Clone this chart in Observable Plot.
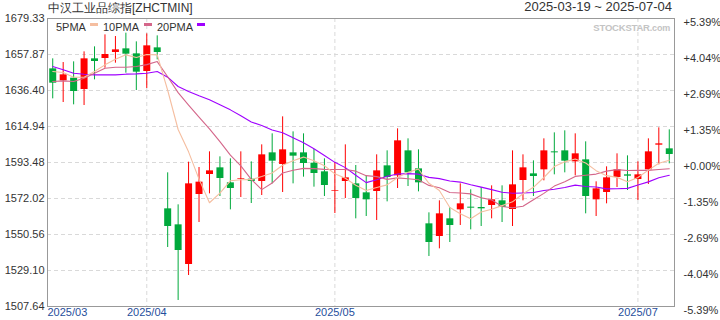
<!DOCTYPE html>
<html><head><meta charset="utf-8">
<script src="https://cdn.jsdelivr.net/npm/d3@7"></script>
<script src="https://cdn.jsdelivr.net/npm/@observablehq/plot@0.6"></script>
<style>
body{margin:0;background:#fff;font-family:"Liberation Sans",Arial,sans-serif;}
#wrap{position:relative;width:720px;height:320px;overflow:hidden;}
.t{position:absolute;white-space:nowrap;color:#333;line-height:14px;}
.sw{position:absolute;width:8px;height:3px;}
</style></head><body>
<div id="wrap"></div>
<script>
const titleText = "中汉工业品综指[ZHCTMIN]";
const rangeText = "2025-03-19 ~ 2025-07-04";
const legendNames = ["5PMA", "10PMA", "20PMA"];
const maColors = ["#f5bea0", "#d4668a", "#9f00ff"];

const yTicks = [1507.64, 1529.10, 1550.56, 1572.02, 1593.48, 1614.94, 1636.40, 1657.87, 1679.33];
const pctLabels = ["-5.39%", "-4.04%", "-2.69%", "-1.35%", "+0.00%", "+1.35%", "+2.69%", "+4.04%", "+5.39%"];
const monthIdx = [0, 9, 27, 56];
const monthLabels = ["2025/03", "2025/04", "2025/05", "2025/07"];

const opens = [1649.31,1642.16,1643.75,1637.00,1655.28,1655.48,1659.05,1661.24,1658.26,1647.73,
1661.83,1565.86,1556.32,1532.68,1574.40,1586.33,1590.30,1581.36,1583.35,1583.54,
1582.15,1599.24,1592.29,1599.24,1599.24,1593.08,1587.92,1576.39,1582.15,1580.76,
1575.40,1576.19,1591.49,1585.53,1600.43,1589.70,1556.92,1549.37,1559.90,1565.26,
1566.85,1566.66,1567.85,1570.63,1565.46,1582.75,1586.72,1589.11,1599.84,1600.43,
1593.88,1595.07,1571.23,1575.60,1584.54,1586.13,1583.35,1589.11,1603.81,1601.63];
const highs = [1655.28,1653.09,1653.49,1659.45,1662.43,1669.58,1668.59,1670.58,1665.41,1670.18,
1668.99,1587.32,1568.25,1593.68,1590.50,1599.84,1596.86,1595.67,1599.84,1593.88,
1604.01,1610.57,1620.70,1611.76,1610.57,1601.23,1595.67,1593.48,1604.01,1591.69,
1585.73,1598.05,1600.43,1613.55,1607.59,1601.03,1563.48,1570.63,1566.66,1580.76,
1577.19,1578.58,1579.57,1579.57,1600.43,1598.05,1594.47,1607.59,1611.16,1612.36,
1610.57,1605.80,1581.96,1590.90,1598.65,1597.45,1593.88,1607.59,1614.14,1612.95];
const lows = [1631.43,1629.25,1627.86,1627.46,1642.76,1649.71,1652.69,1646.73,1636.40,1637.59,
1654.68,1542.81,1511.22,1526.12,1557.71,1574.80,1573.21,1565.26,1572.62,1569.04,
1573.81,1580.76,1575.60,1580.76,1584.74,1578.78,1573.21,1563.08,1572.02,1559.90,
1561.29,1558.91,1570.03,1577.98,1579.17,1575.99,1537.45,1542.02,1545.79,1555.93,
1553.34,1555.33,1559.90,1557.71,1555.33,1570.63,1573.21,1582.55,1586.13,1587.32,
1585.53,1562.88,1561.29,1568.84,1578.58,1576.79,1570.83,1580.37,1592.09,1592.69];
const closes = [1640.77,1645.74,1635.80,1655.28,1653.69,1657.86,1660.64,1658.06,1647.33,1663.03,
1659.05,1555.33,1541.02,1580.76,1581.76,1588.51,1583.94,1577.98,1583.74,1582.15,
1598.05,1594.27,1601.03,1597.26,1592.88,1586.92,1579.77,1576.79,1584.34,1572.02,
1571.23,1588.51,1584.54,1606.40,1587.32,1581.36,1545.79,1562.88,1555.93,1568.84,
1566.26,1565.86,1571.23,1566.66,1580.17,1590.30,1585.13,1600.43,1599.24,1594.27,
1598.65,1573.21,1577.78,1584.34,1589.11,1585.33,1586.13,1599.84,1604.61,1598.25];
const ma5 = [1647.73,1647.13,1644.35,1644.35,1647.73,1651.70,1655.08,1657.66,1656.07,1657.86,
1657.66,1636.56,1613.15,1599.84,1583.58,1569.48,1575.20,1582.59,1583.19,1583.26,
1585.17,1587.24,1591.85,1594.55,1596.70,1594.47,1591.57,1586.72,1584.14,1579.97,
1576.83,1578.58,1580.13,1584.54,1587.60,1589.63,1581.08,1576.75,1566.66,1562.96,
1559.94,1563.95,1565.62,1567.77,1570.04,1574.84,1578.70,1584.54,1591.05,1593.87,
1595.54,1593.16,1588.63,1585.65,1584.62,1581.95,1584.54,1588.95,1593.00,1594.83];
const ma10 = [1641.76,1642.16,1641.76,1643.75,1646.73,1649.71,1650.31,1650.31,1650.71,1651.82,
1653.65,1644.61,1635.13,1627.68,1620.48,1613.55,1605.88,1597.87,1591.51,1583.42,
1577.32,1581.22,1587.22,1588.87,1589.98,1589.82,1589.41,1589.29,1589.35,1588.33,
1585.65,1585.08,1583.43,1584.34,1583.78,1583.23,1579.83,1578.44,1575.60,1575.28,
1574.78,1572.52,1571.19,1567.21,1566.50,1567.39,1571.33,1575.08,1579.41,1581.96,
1585.19,1585.93,1586.58,1588.35,1589.25,1588.75,1588.85,1588.79,1589.33,1589.73];
const ma20 = [1650.71,1648.72,1646.73,1646.14,1645.74,1645.74,1645.74,1646.14,1646.33,1646.73,
1647.73,1644.35,1638.78,1635.80,1633.22,1630.84,1627.86,1624.87,1621.30,1617.62,
1615.49,1612.91,1611.17,1608.27,1605.23,1601.69,1597.64,1593.58,1590.43,1585.88,
1581.49,1583.15,1585.32,1586.60,1586.88,1586.53,1584.62,1583.86,1582.47,1581.81,
1580.22,1578.80,1577.31,1575.78,1575.14,1575.31,1575.58,1576.76,1577.51,1578.62,
1579.99,1579.22,1578.89,1577.78,1577.87,1578.07,1580.09,1581.94,1584.37,1585.84];

const UP = "#ff0000", DOWN = "#00a93c";
const candles = opens.map((o, i) => ({i, open: o, high: highs[i], low: lows[i], close: closes[i],
  color: closes[i] >= o ? UP : DOWN}));
const maSeries = [ma20, ma10, ma5];
const maColorOrder = [maColors[2], maColors[1], maColors[0]];
const months = monthIdx.map((i, k) => ({i, label: monthLabels[k]}));
const innerTicks = yTicks.slice(1, -1);
const fmtPct = d => pctLabels[yTicks.indexOf(d)];

const chart = Plot.plot({
  width: 720, height: 320,
  marginLeft: 47, marginRight: 46, marginTop: 18, marginBottom: 14,
  x: {type: "linear", domain: [-0.5, 59.5], axis: null},
  y: {domain: [yTicks[0], yTicks[yTicks.length - 1]], axis: null},
  color: {type: "identity"},
  style: {fontFamily: '"Liberation Sans", Arial, sans-serif', fontSize: "11px", color: "#333", background: "#fff", overflow: "visible"},
  marks: [
    Plot.gridY(innerTicks, {stroke: "#d9d9d9", strokeOpacity: 1, strokeDasharray: "4,3"}),
    Plot.ruleX(months.slice(1), {x: "i", stroke: "#d9d9d9", strokeDasharray: "4,3"}),
    Plot.ruleX(candles, {x: "i", y1: "low", y2: "high", stroke: "color", strokeWidth: 1}),
    Plot.ruleX(candles, {x: "i", y1: "open", y2: "close", stroke: "color", strokeWidth: 7}),
    ...maSeries.map((s, k) => Plot.line(s, {x: (d, i) => i, y: d => d, stroke: maColorOrder[k], strokeWidth: 1.1})),
    Plot.axisY({anchor: "left", ticks: yTicks, tickSize: 0, tickPadding: 3, tickFormat: d => d.toFixed(2), fill: "#333", fontSize: 11}),
    Plot.axisY({anchor: "right", ticks: yTicks, tickSize: 0, tickPadding: 9, tickFormat: fmtPct, dy: 4, fill: "#333", fontSize: 11}),
    Plot.text(months.slice(0, 1), {x: -0.5, frameAnchor: "bottom", dy: 9, text: "label", textAnchor: "start", fill: "#1f4e9c", fontSize: 11}),
    Plot.text(months.slice(1), {x: "i", frameAnchor: "bottom", dy: 9, text: "label", fill: "#1f4e9c", fontSize: 11}),
    Plot.frame({stroke: "#999"})
  ]
});
const wrap = document.getElementById("wrap");
wrap.appendChild(chart);

function addText(txt, css) {
  const d = document.createElement("div");
  d.className = "t";
  d.textContent = txt;
  Object.assign(d.style, css);
  wrap.appendChild(d);
  return d;
}
addText(titleText, {left: "48px", top: "1px", fontSize: "12px"});
addText(rangeText, {right: "48px", top: "0px", fontSize: "13px"});
const legX = [56, 103, 157], swX = [90, 144, 197];
legendNames.forEach((n, k) => {
  addText(n, {left: legX[k] + "px", top: "20px", fontSize: "11px"});
  const s = document.createElement("div");
  s.className = "sw";
  Object.assign(s.style, {left: swX[k] + "px", top: "23px", background: maColors[k]});
  wrap.appendChild(s);
});
const wm = addText("STOCKSTAR", {right: "50px", top: "21px", fontSize: "9.5px", fontWeight: "bold", color: "#c4c4c4", letterSpacing: "-0.2px"});
const com = document.createElement("span");
com.textContent = ".com";
com.style.fontSize = "9px";
wm.appendChild(com);
</script>
</body></html>
